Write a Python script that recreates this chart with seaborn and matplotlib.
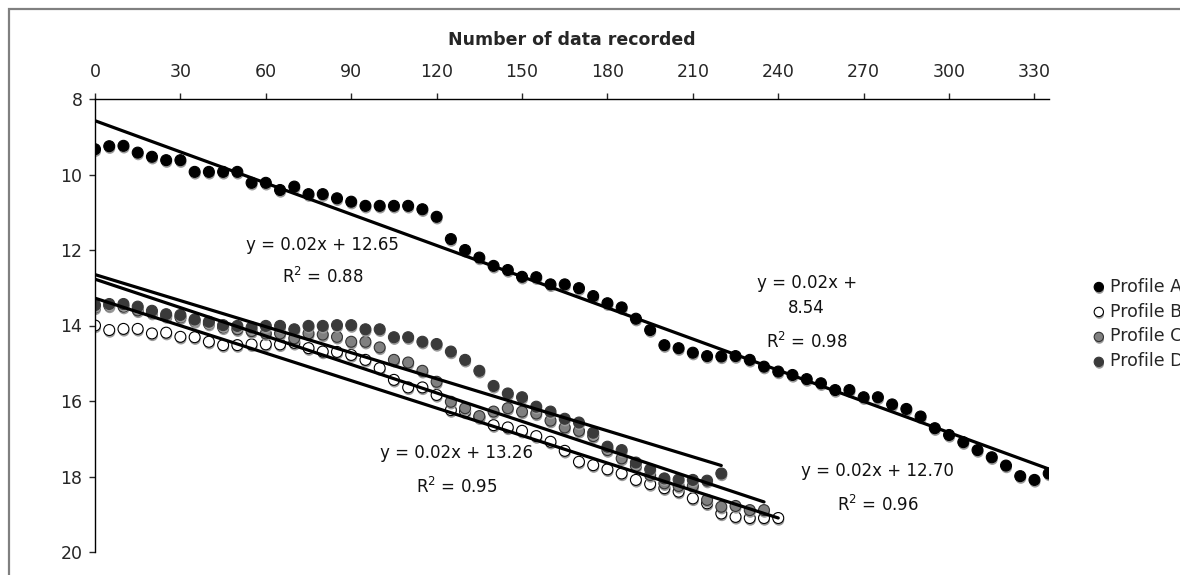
import matplotlib.pyplot as plt
import matplotlib.patheffects as pe
from matplotlib.patches import Rectangle
import numpy as np
import pandas as pd
import seaborn as sns

# % Data (x = number of data recorded, y = value)
profile_a_x = list(range(0, 340, 5))
profile_a_y = [
    9.33, 9.25, 9.24, 9.42, 9.53, 9.62, 9.62, 9.93, 9.93, 9.93,
    9.93, 10.22, 10.22, 10.41, 10.32, 10.52, 10.52, 10.63, 10.72, 10.83,
    10.83, 10.83, 10.83, 10.92, 11.12, 11.71, 12.00, 12.20, 12.42, 12.53,
    12.71, 12.72, 12.91, 12.91, 13.01, 13.22, 13.41, 13.52, 13.82, 14.12,
    14.52, 14.60, 14.72, 14.81, 14.82, 14.81, 14.91, 15.09, 15.22, 15.31,
    15.42, 15.53, 15.71, 15.71, 15.90, 15.90, 16.09, 16.21, 16.41, 16.72,
    16.90, 17.09, 17.30, 17.49, 17.71, 17.99, 18.09, 17.92,
]
profile_b_x = list(range(0, 245, 5))
profile_b_y = [
    14.00, 14.12, 14.09, 14.09, 14.21, 14.19, 14.30, 14.31, 14.43, 14.52,
    14.52, 14.50, 14.50, 14.50, 14.46, 14.60, 14.69, 14.70, 14.78, 14.91,
    15.13, 15.44, 15.64, 15.64, 15.84, 16.24, 16.28, 16.43, 16.64, 16.70,
    16.79, 16.93, 17.08, 17.32, 17.61, 17.70, 17.81, 17.92, 18.09, 18.20,
    18.31, 18.40, 18.58, 18.71, 18.98, 19.07, 19.10, 19.10, 19.10,
]
profile_c_x = list(range(0, 240, 5))
profile_c_y = [
    13.52, 13.47, 13.50, 13.60, 13.66, 13.75, 13.78, 13.88, 13.95, 14.05,
    14.10, 14.15, 14.21, 14.21, 14.34, 14.21, 14.24, 14.30, 14.43, 14.43,
    14.58, 14.91, 14.98, 15.20, 15.49, 16.02, 16.19, 16.40, 16.28, 16.19,
    16.28, 16.33, 16.52, 16.70, 16.79, 16.93, 17.30, 17.52, 17.72, 17.96,
    18.18, 18.25, 18.25, 18.62, 18.80, 18.78, 18.89, 18.89,
]
profile_d_x = list(range(0, 225, 5))
profile_d_y = [
    13.46, 13.43, 13.43, 13.50, 13.61, 13.70, 13.72, 13.84, 13.90, 13.99,
    14.01, 14.05, 14.01, 14.01, 14.10, 14.01, 14.01, 13.99, 13.99, 14.10,
    14.10, 14.31, 14.31, 14.43, 14.49, 14.69, 14.91, 15.20, 15.60, 15.80,
    15.90, 16.15, 16.28, 16.47, 16.57, 16.84, 17.21, 17.30, 17.63, 17.81,
    18.05, 18.08, 18.09, 18.11, 17.92,
]

profile_names = ["Profile A", "Profile B", "Profile C", "Profile D"]
x_ticks = list(range(0, 331, 30))
y_ticks = list(range(8, 21, 2))

# trendline labels as printed on the chart: (text, x, y)
trend_labels = [
    ("y = 0.02x + 12.65", 80, 11.87),
    ("R$^2$ = 0.88", 80, 12.72),
    ("y = 0.02x +", 250, 12.87),
    ("8.54", 250, 13.54),
    ("R$^2$ = 0.98", 250, 14.44),
    ("y = 0.02x + 12.70", 275, 17.85),
    ("R$^2$ = 0.96", 275, 18.75),
    ("y = 0.02x + 13.26", 127, 17.38),
    ("R$^2$ = 0.95", 127, 18.28),
]

# % Build long table
df = pd.concat(
    [
        pd.DataFrame({"x": xs, "y": ys, "profile": name})
        for name, xs, ys in zip(
            profile_names,
            [profile_a_x, profile_b_x, profile_c_x, profile_d_x],
            [profile_a_y, profile_b_y, profile_c_y, profile_d_y],
        )
    ]
)

# % Plot
sns.set_style("white")
plt.rcParams["font.family"] = ["DejaVu Sans"]
plt.rcParams["mathtext.fontset"] = "dejavusans"

face = {"Profile A": "#000000", "Profile B": "#ffffff", "Profile C": "#808080", "Profile D": "#3a3a3a"}
edge = {"Profile A": "#000000", "Profile B": "#000000", "Profile C": "#333333", "Profile D": "#3a3a3a"}
shadow = [pe.SimplePatchShadow(offset=(0.4, -1.6), shadow_rgbFace="#9a9a9a", alpha=1.0), pe.Normal()]

fig = plt.figure(figsize=(11.8, 5.75), dpi=100)
ax = fig.add_axes([95 / 1180, 1 - 552 / 575, (1048.7 - 95) / 1180, (552 - 99) / 575])

for name in profile_names:
    sub = df[df["profile"] == name]
    sns.scatterplot(
        x="x", y="y", data=sub, ax=ax, label=name,
        s=62, color=face[name], edgecolor=edge[name], linewidth=0.8,
        zorder=2,
    )
    ax.collections[-1].set_path_effects(shadow)

# linear trendlines, one per profile
for name in profile_names:
    sub = df[df["profile"] == name]
    sns.regplot(
        x="x", y="y", data=sub, ax=ax, scatter=False, ci=None,
        color="black", line_kws={"lw": 2.3, "zorder": 3},
    )

for txt, tx, ty in trend_labels:
    ax.text(tx, ty, txt, ha="center", va="center", fontsize=12, color="#111111")

ax.set_xlim(0, 335)
ax.set_ylim(20, 8)
ax.set_xticks(x_ticks)
ax.set_yticks(y_ticks)
ax.xaxis.tick_top()
ax.xaxis.set_label_position("top")
ax.set_xlabel("Number of data recorded", fontsize=12.5, fontweight="bold", labelpad=13)
ax.set_ylabel("")
ax.tick_params(axis="x", direction="out", length=4, width=1, pad=9, labelsize=12.5, top=True, bottom=False)
ax.tick_params(axis="y", direction="out", length=4, width=1, pad=5, labelsize=12.5, left=True)
for side in ["right", "bottom"]:
    ax.spines[side].set_visible(False)
for side in ["top", "left"]:
    ax.spines[side].set_color("#000000")
    ax.spines[side].set_linewidth(1)

ax.legend(
    loc="center left", bbox_to_anchor=(1091 / 1180, 1 - 324 / 575),
    bbox_transform=fig.transFigure, frameon=False, fontsize=12.5,
    handletextpad=0.2, handlelength=0.9, borderpad=0, borderaxespad=0,
    labelspacing=0.4, markerscale=0.85,
)

# outer chart border
fig.patches.append(
    Rectangle((9 / 1180, -0.2), 2, 1.2 - 9 / 575, transform=fig.transFigure,
              fill=False, edgecolor="#808080", lw=1.6)
)

plt.savefig("out.png", dpi=100)
